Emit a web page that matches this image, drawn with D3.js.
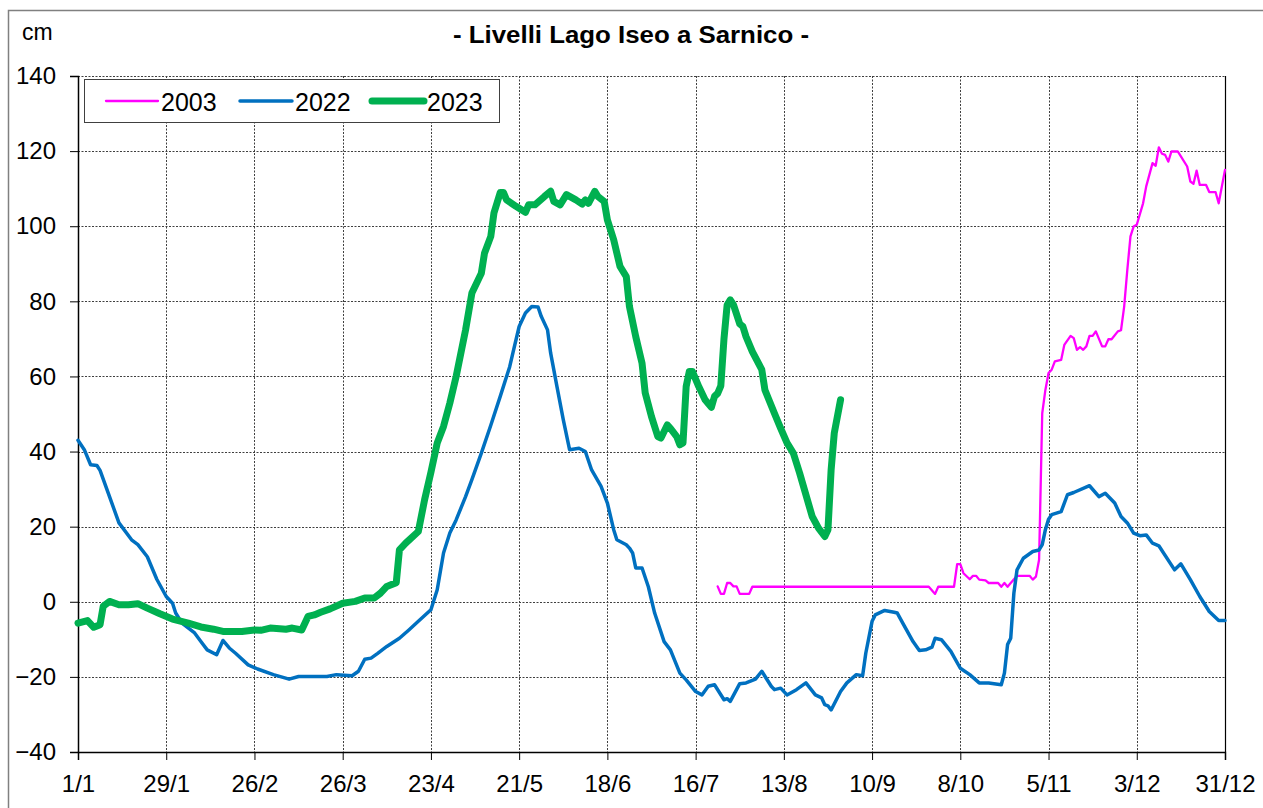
<!DOCTYPE html>
<html>
<head>
<meta charset="utf-8">
<script src="https://cdn.jsdelivr.net/npm/d3@7"></script>
<style>
  body { margin: 0; background: #fff; }
  svg text { font-family: "Liberation Sans", Arial, sans-serif; fill: #000; }
</style>
</head>
<body>
<div id="chart"></div>
<script>
// x axis ticks (day of year) and labels
var tickDays = [0, 28, 56, 84, 112, 140, 168, 196, 224, 252, 280, 308, 336, 364];
var tickLabels = ["1/1", "29/1", "26/2", "26/3", "23/4", "21/5", "18/6", "16/7", "13/8", "10/9", "8/10", "5/11", "3/12", "31/12"];
var yTicks = [-40, -20, 0, 20, 40, 60, 80, 100, 120, 140];

// 2003 (only second half of the year)
var days2003 = [203, 204, 205, 206, 207, 208, 209, 210, 213, 214, 270, 272, 273, 278, 279, 280, 281, 283, 284, 285, 286, 288, 289, 292, 293, 294, 295, 296, 298, 302, 303, 304, 305, 306, 307, 308, 309, 310, 312, 313, 315, 316, 317, 318, 319, 320, 321, 322, 323, 325, 326, 327, 328, 330, 331, 332, 333, 334, 335, 336, 338, 339, 341, 342, 343, 344, 345, 346, 347, 349, 350, 352, 353, 354, 355, 356, 358, 359, 361, 362, 364];
var vals2003 = [4.1, 2.1, 2.1, 5, 5, 4.1, 4.1, 2.1, 2.1, 4, 4, 2.1, 4, 4, 10, 10, 7.6, 6, 6.9, 6.9, 5.9, 5.7, 5, 5, 4, 5, 4, 5, 6.9, 6.9, 5.9, 6.7, 11.2, 50.2, 56.4, 60.9, 61.8, 64, 64.4, 68.4, 70.8, 70.2, 67.1, 67.8, 67.1, 68, 70.8, 70.8, 72, 68, 68, 69.9, 69.9, 72, 72.3, 78.6, 88.4, 97.3, 99.9, 100.4, 106.1, 110.6, 116.8, 116.1, 121, 119.3, 119, 117.2, 119.9, 119.9, 118.6, 115.9, 111.9, 111.3, 114.8, 111, 111, 109.1, 109.1, 106.1, 115];

// 2022
var days2022 = [0, 2, 4, 6, 7, 10, 13, 17, 19, 22, 25, 28, 30, 31, 33, 37, 39, 41, 44, 46, 48, 50, 54, 57, 62, 67, 70, 79, 82, 87, 89, 91, 93, 95, 98, 102, 105, 108, 112, 114, 116, 118, 120, 123, 125, 128, 131, 134, 137, 138, 140, 142, 144, 146, 147, 149, 150, 152, 154, 156, 159, 161, 163, 166, 168, 170, 171, 174, 175, 176, 177, 179, 181, 183, 186, 188, 191, 193, 196, 198, 200, 202, 205, 206, 207, 210, 212, 215, 217, 220, 221, 223, 225, 228, 231, 234, 236, 237, 238, 239, 242, 244, 247, 249, 250, 252, 253, 256, 259, 260, 262, 265, 267, 269, 271, 272, 274, 277, 280, 283, 286, 289, 293, 294, 295, 296, 297, 298, 300, 303, 305, 306, 307, 308, 309, 312, 314, 316, 321, 324, 326, 329, 331, 333, 335, 337, 339, 341, 343, 348, 350, 353, 356, 359, 362, 364];
var vals2022 = [43, 40.5, 36.5, 36.3, 35, 28, 21, 16.5, 15.2, 12, 6, 1.4, -0.4, -3, -5.7, -8.3, -10.6, -12.8, -14.1, -10.3, -12.3, -13.7, -16.8, -17.9, -19.4, -20.6, -19.9, -19.9, -19.4, -19.7, -18.5, -15.3, -15, -13.8, -11.9, -9.7, -7.5, -5.2, -2.1, 3.2, 13, 18.3, 21.8, 28, 32.5, 39.6, 47, 54.7, 62.6, 66.2, 73.3, 76.9, 78.6, 78.5, 76, 72.4, 66.2, 57.3, 48.5, 40.5, 40.9, 40, 35.1, 30.7, 26.3, 19.2, 16.5, 15.2, 14.3, 13, 9, 9, 4, -3, -10.6, -12.8, -19, -20.8, -23.9, -24.8, -22.5, -22.1, -26.1, -25.8, -26.5, -21.8, -21.6, -20.6, -18.5, -22.5, -23.4, -23, -24.8, -23.4, -21.6, -24.8, -25.6, -27.4, -27.7, -28.8, -23.9, -21.6, -19.4, -19.7, -13.7, -5.2, -3.5, -2.3, -2.8, -3, -6.1, -10.6, -13, -12.8, -12.1, -9.7, -10.1, -13.2, -17.7, -19.4, -21.6, -21.6, -22.1, -19, -11.4, -9.7, 2.3, 8.5, 11.6, 13.4, 13.8, 15.2, 19.2, 22, 23.2, 24, 28.5, 29.1, 30.9, 28, 28.9, 26.3, 22.7, 21, 18.3, 17.6, 17.8, 15.6, 14.9, 8.5, 10.1, 5.9, 1.4, -2.6, -5, -5];

// 2023 (up to end of August)
var days2023 = [0, 3, 5, 7, 8, 10, 13, 16, 19, 22, 26, 30, 35, 39, 43, 46, 52, 56, 58, 61, 66, 68, 71, 73, 75, 77, 80, 84, 88, 91, 94, 96, 98, 101, 102, 104, 108, 110, 112, 114, 116, 118, 120, 123, 125, 128, 129, 131, 132, 134, 135, 136, 139, 142, 143, 145, 148, 150, 151, 153, 155, 158, 160, 161, 162, 164, 165, 167, 168, 170, 172, 174, 175, 177, 179, 180, 182, 184, 185, 187, 188, 190, 191, 192, 193, 194, 195, 197, 199, 201, 202, 203, 204, 205, 206, 207, 208, 210, 211, 212, 214, 217, 218, 221, 223, 225, 227, 229, 231, 233, 235, 237, 238, 239, 240, 242];
var vals2023 = [-5.7, -5, -6.8, -6.1, -1.2, 0.1, -0.8, -0.8, -0.5, -1.7, -3.2, -4.6, -5.7, -6.7, -7.3, -7.9, -7.9, -7.5, -7.6, -7, -7.3, -7, -7.5, -3.9, -3.5, -2.8, -1.9, -0.4, 0.1, 1, 1, 2.3, 4.1, 5.1, 13.8, 15.6, 18.7, 27.2, 34.5, 42.3, 46.7, 52.9, 60, 72.4, 82.2, 87.5, 92.8, 97.3, 103.5, 109, 109, 107, 105.3, 103.7, 105.7, 105.7, 107.9, 109.3, 106.6, 105.7, 108.4, 107, 105.9, 107, 106.1, 109.3, 107.9, 106.6, 101.7, 96.4, 89.3, 86.6, 78.6, 70.6, 63.5, 55.6, 49.3, 44, 43.6, 47.1, 46.2, 44, 41.8, 42.3, 57.3, 61.3, 61.3, 57.3, 53.8, 51.8, 54.7, 55.5, 57.5, 70, 79, 80.4, 79.1, 74, 73.3, 70.6, 66.6, 61.8, 56.4, 50.2, 46.2, 42.3, 39.6, 34.3, 28.5, 22.7, 19.6, 17.4, 19.2, 35.1, 44.9, 53.8];

var W = 1263, H = 808;
var plot = {left: 78, right: 1225, top: 76, bottom: 752};

var svg = d3.select("#chart").append("svg")
    .attr("width", W)
    .attr("height", H);

// outer frame of the chart object
svg.append("path")
    .attr("d", "M8.5," + (H + 2) + "V10.5H" + (W + 2))
    .attr("fill", "none")
    .attr("stroke", "#808080")
    .attr("stroke-width", 1.5);

var x = d3.scaleLinear().domain([0, 364]).range([plot.left, plot.right]);
var y = d3.scaleLinear().domain([-40, 140]).range([plot.bottom, plot.top]);

// gridlines
var grid = svg.append("g").attr("stroke", "#000").attr("stroke-width", 1).attr("stroke-dasharray", "2,1.5").attr("opacity", 0.75);
grid.selectAll(".hg").data(yTicks.filter(function (d) { return d > -40; }))
    .enter().append("line")
    .attr("x1", plot.left).attr("x2", plot.right)
    .attr("y1", function (d) { return Math.round(y(d)) + 0.5; })
    .attr("y2", function (d) { return Math.round(y(d)) + 0.5; });
grid.selectAll(".vg").data(tickDays.filter(function (d) { return d > 0 && d < 364; }))
    .enter().append("line")
    .attr("y1", plot.top).attr("y2", plot.bottom)
    .attr("x1", function (d) { return Math.round(x(d)) + 0.5; })
    .attr("x2", function (d) { return Math.round(x(d)) + 0.5; });

// right border of plot area
svg.append("line")
    .attr("x1", plot.right + 0.5).attr("x2", plot.right + 0.5)
    .attr("y1", plot.top).attr("y2", plot.bottom)
    .attr("stroke", "#000").attr("stroke-width", 1.2);

// axes
var yAxis = d3.axisLeft(y).tickValues(yTicks).tickSize(8).tickPadding(14).tickFormat(d3.format("d"));
var gy = svg.append("g").attr("transform", "translate(" + plot.left + ",0)").call(yAxis);
var xAxis = d3.axisBottom(x).tickValues(tickDays).tickSize(8).tickPadding(14)
    .tickFormat(function (d, i) { return tickLabels[i]; });
var gx = svg.append("g").attr("transform", "translate(0," + plot.bottom + ")").call(xAxis);

[gx, gy].forEach(function (g) {
    g.select(".domain").attr("stroke", "#000").attr("stroke-width", 1.5);
    g.selectAll(".tick line").attr("stroke", "#000").attr("stroke-width", 1);
    g.selectAll("text").style("font-size", "24px").attr("fill", "#000")
        .style("font-family", "'Liberation Sans', Arial, sans-serif");
});
gx.selectAll(".tick text").attr("dy", "0.75em");

// y unit and title
svg.append("text").attr("x", 22).attr("y", 40).style("font-size", "23px").text("cm");
svg.append("text").attr("x", 631).attr("y", 43)
    .attr("text-anchor", "middle")
    .attr("textLength", 356).attr("lengthAdjust", "spacingAndGlyphs")
    .style("font-size", "23px").style("font-weight", "bold")
    .text("- Livelli Lago Iseo a Sarnico -");

// series
var series = [
    {name: "2003", days: days2003, vals: vals2003, color: "#FF00FF", width: 2.3},
    {name: "2022", days: days2022, vals: vals2022, color: "#0070C0", width: 3.5},
    {name: "2023", days: days2023, vals: vals2023, color: "#00B050", width: 7}
];

var line = d3.line()
    .x(function (d) { return x(d[0]); })
    .y(function (d) { return y(d[1]); });

series.forEach(function (s) {
    var pts = s.days.map(function (d, i) { return [d, s.vals[i]]; });
    svg.append("path")
        .datum(pts)
        .attr("fill", "none")
        .attr("stroke", s.color)
        .attr("stroke-width", s.width)
        .attr("stroke-linejoin", "round")
        .attr("stroke-linecap", "round")
        .attr("d", line);
});

// legend
var lg = svg.append("g");
lg.append("rect")
    .attr("x", 84.5).attr("y", 79.5)
    .attr("width", 415).attr("height", 43)
    .attr("fill", "#fff").attr("stroke", "#404040").attr("stroke-width", 1);
var legendX = [106, 240, 372];
series.forEach(function (s, i) {
    lg.append("line")
        .attr("x1", legendX[i]).attr("x2", legendX[i] + 52)
        .attr("y1", 101).attr("y2", 101)
        .attr("stroke", s.color).attr("stroke-width", s.width)
        .attr("stroke-linecap", "round");
    lg.append("text")
        .attr("x", legendX[i] + 55).attr("y", 111)
        .style("font-size", "25px")
        .text(s.name);
});
</script>
</body>
</html>
